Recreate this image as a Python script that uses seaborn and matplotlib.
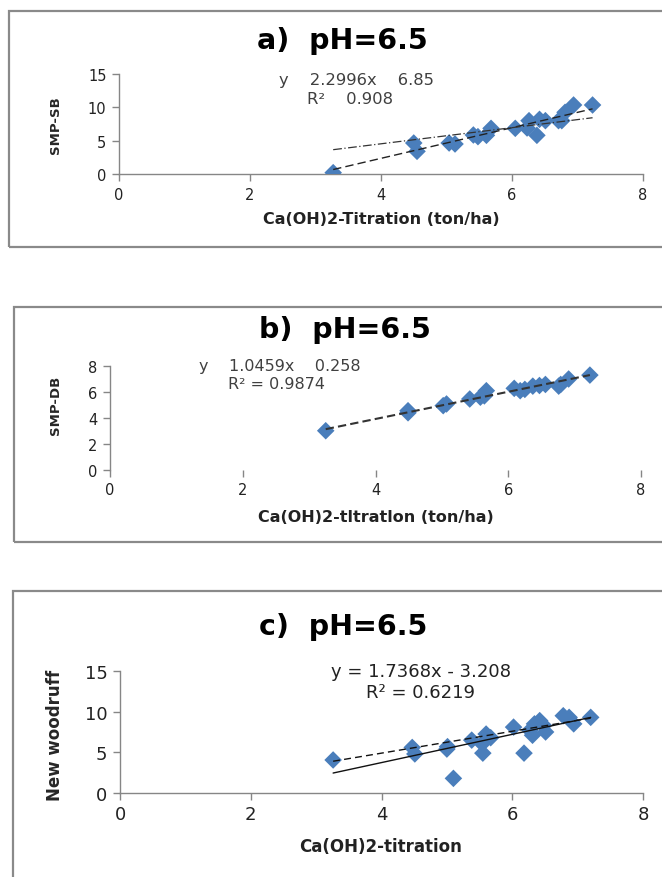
import numpy as np
import pandas as pd
import matplotlib
matplotlib.use("Agg")
import matplotlib.pyplot as plt
import seaborn as sns
from matplotlib.patches import Rectangle

# ---------------- data ----------------
a_x = [3.27, 4.50, 4.55, 5.04, 5.13, 5.41, 5.48, 5.61, 5.68, 6.05, 6.23, 6.26,
       6.38, 6.42, 6.51, 6.71, 6.76, 6.81, 6.94, 7.23]
a_y = [0.2, 4.65, 3.4, 4.65, 4.5, 5.85, 5.6, 5.8, 6.85, 6.85, 6.9, 8.0,
       5.8, 8.2, 8.0, 8.0, 8.0, 9.25, 10.35, 10.35]
a_fit = [2.2996, -6.85]
a_other = [1.21, -0.31]

b_x = [3.25, 4.49, 4.49, 5.02, 5.07, 5.42, 5.58, 5.64, 5.67, 6.09, 6.18, 6.25,
       6.37, 6.47, 6.56, 6.76, 6.79, 6.91, 7.23]
b_y = [3.02, 4.4, 4.56, 4.95, 5.08, 5.46, 5.6, 5.7, 6.1, 6.28, 6.1, 6.2,
       6.45, 6.5, 6.58, 6.45, 6.58, 7.0, 7.3]
b_fit = [1.0459, -0.258]

c_x = [3.26, 4.47, 4.51, 5.00, 5.01, 5.10, 5.38, 5.54, 5.55, 5.60, 5.67, 6.02,
       6.18, 6.27, 6.31, 6.34, 6.42, 6.48, 6.51, 6.78, 6.87, 6.94, 7.20]
c_y = [4.06, 5.6, 4.8, 5.4, 5.7, 1.8, 6.5, 6.05, 4.9, 7.25, 6.8, 8.1,
       4.9, 7.7, 7.1, 8.5, 8.9, 8.3, 7.5, 9.5, 9.3, 8.5, 9.3]
c_fit = [1.7368, -3.208]
c_other = [1.345, -0.48]

x_ticks = [0, 2, 4, 6, 8]
a_yticks = [0, 5, 10, 15]
b_yticks = [0, 2, 4, 6, 8]
c_yticks = [0, 5, 10, 15]

# ---------------- styling ----------------
sns.set_theme(style="white")
plt.rcParams['font.family'] = ['DejaVu Sans']

W, H = 662, 878
fig = plt.figure(figsize=(W / 100, H / 100), dpi=100)

BLUE = "#4A7EBB"
AXC = "#868686"
TXT = "#404040"


def fx(px):
    return px / W


def fy(py):
    return 1 - py / H


def frame(x0, y0, y1):
    fig.patches.append(Rectangle((fx(x0), fy(y1)), 1.2, fy(y0) - fy(y1),
                                 transform=fig.transFigure, fill=False,
                                 ec="#8a8a8a", lw=1.6, zorder=0))


def panel(rect, xs, ys, yticks, ylim, tick_fs, tick_font):
    ax = fig.add_axes(rect)
    df = pd.DataFrame({"x": xs, "y": ys})
    sns.scatterplot(data=df, x="x", y="y", marker="D", color=BLUE, s=80,
                    edgecolor="none", ax=ax, zorder=3)
    ax.set_xlim(0, 8)
    ax.set_ylim(*ylim)
    ax.set_xticks(x_ticks)
    ax.set_yticks(yticks)
    ax.set_xlabel("")
    ax.set_ylabel("")
    for s in ["top", "right"]:
        ax.spines[s].set_visible(False)
    for s in ["left", "bottom"]:
        ax.spines[s].set_color(AXC)
        ax.spines[s].set_linewidth(1.0)
    ax.tick_params(axis="both", direction="out", length=5, width=1.0,
                   color=AXC, labelsize=tick_fs, labelcolor="#222222",
                   left=True, bottom=True, pad=4)
    for lab in ax.get_xticklabels() + ax.get_yticklabels():
        lab.set_family(tick_font)
    ax.patch.set_alpha(0)
    ax.grid(False)
    return ax


def fitline(ax, xs, coef, **kw):
    xr = np.array([min(xs), max(xs)])
    ax.plot(xr, coef[0] * xr + coef[1], **kw)


TITLE = dict(ha="center", va="center", fontsize=20.5, fontweight="bold",
             family="DejaVu Sans", color="#000000")
XLAB = dict(ha="center", va="center", fontsize=11.5, fontweight="bold",
            family="DejaVu Sans", color="#222222")

# ---------------- panel a ----------------
frame(9, 12, 248)
axa = panel([fx(119), fy(175), fx(643) - fx(119), fy(75) - fy(175)],
            a_x, a_y, a_yticks, (0, 15), 10.5, "DejaVu Sans")
fitline(axa, a_x, a_fit, color="#222222", lw=1.0, ls=(0, (6, 3)), zorder=4)
fitline(axa, a_x, a_other, color="#333333", lw=0.9, ls=(0, (7, 2, 1, 2)), zorder=4)
fig.text(fx(342), fy(41), "a)  pH=6.5", **TITLE)
fig.text(fx(279), fy(80), "y    2.2996x    6.85", ha="left", va="center",
         fontsize=11.8, color=TXT)
fig.text(fx(307), fy(100), "R\u00b2    0.908", ha="left", va="center",
         fontsize=11.8, color=TXT)
fig.text(fx(381), fy(220), "Ca(OH)2-Titration (ton/ha)", **XLAB)
fig.text(fx(55), fy(125), "SMP-SB", ha="center", va="center", rotation=90,
         fontsize=9.5, fontweight="bold", family="DejaVu Sans")

# ---------------- panel b ----------------
frame(14, 308, 543)
axb = panel([fx(110), fy(471), fx(641) - fx(110), fy(367) - fy(471)],
            b_x, b_y, b_yticks, (0, 8), 10.5, "DejaVu Sans")
axb.spines["bottom"].set_visible(False)
fitline(axb, b_x, b_fit, color="#333333", lw=1.5, ls=(0, (4, 2)), zorder=4)
fig.text(fx(345), fy(330), "b)  pH=6.5", **TITLE)
fig.text(fx(199), fy(367), "y    1.0459x    0.258", ha="left", va="center",
         fontsize=11.5, color=TXT)
fig.text(fx(228), fy(385), "R\u00b2 = 0.9874", ha="left", va="center",
         fontsize=11.5, color=TXT)
fig.text(fx(376), fy(517), "Ca(OH)2-tltratlon (ton/ha)", **XLAB)
fig.text(fx(55), fy(405), "SMP-DB", ha="center", va="center", rotation=90,
         fontsize=9.5, fontweight="bold", family="DejaVu Sans")

# ---------------- panel c ----------------
frame(13, 592, 900)
axc = panel([fx(120), fy(794), fx(643) - fx(120), fy(672) - fy(794)],
            c_x, c_y, c_yticks, (0, 15), 13, "DejaVu Sans")
fitline(axc, c_x, c_fit, color="#111111", lw=1.0, ls="-", zorder=4)
fitline(axc, c_x, c_other, color="#111111", lw=1.0, ls=(0, (5, 3)), zorder=4)
fig.text(fx(343), fy(627), "c)  pH=6.5", **TITLE)
fig.text(fx(421), fy(672), "y = 1.7368x - 3.208", ha="center", va="center",
         fontsize=13, color="#222222", family="DejaVu Sans")
fig.text(fx(421), fy(693), "R\u00b2 = 0.6219", ha="center", va="center",
         fontsize=13, color="#222222", family="DejaVu Sans")
fig.text(fx(381), fy(847), "Ca(OH)2-titration", ha="center", va="center",
         fontsize=12, fontweight="bold", family="DejaVu Sans", color="#222222")
fig.text(fx(55), fy(735), "New woodruff", ha="center", va="center",
         rotation=90, fontsize=12, fontweight="bold", family="DejaVu Sans")

fig.savefig("out.png", dpi=100)
